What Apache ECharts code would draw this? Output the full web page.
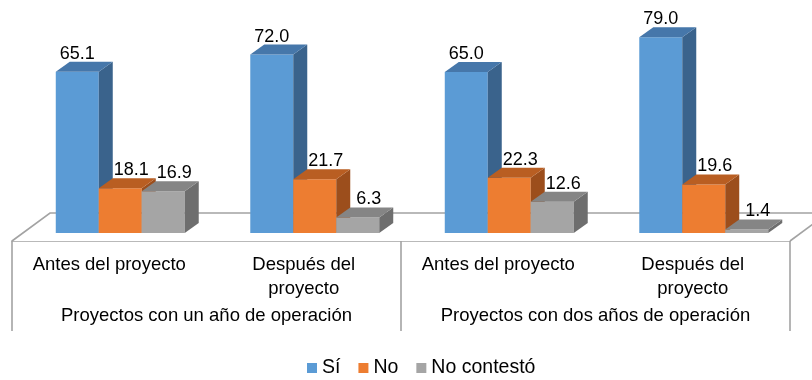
<!DOCTYPE html>
<html>
<head>
<meta charset="utf-8">
<script src="https://cdn.jsdelivr.net/npm/echarts@6/dist/echarts.min.js"></script>
<style>
  html, body { margin: 0; padding: 0; background: #ffffff; }
  #chart { width: 812px; height: 380px; }
</style>
</head>
<body>
<div id="chart"></div>
<script>
// Category labels (bottom level) and group labels (second level)
const categoryLabels = ['Antes del proyecto', 'Después del\nproyecto', 'Antes del proyecto', 'Después del\nproyecto'];
const groupLabels = ['Proyectos con un año de operación', 'Proyectos con dos años de operación'];

// Series values (%)
const seriesNames = ['Sí', 'No', 'No contestó'];
const valuesSi = [65.1, 72.0, 65.0, 79.0];
const valuesNo = [18.1, 21.7, 22.3, 19.6];
const valuesNoContesto = [16.9, 6.3, 12.6, 1.4];

// Face colours: front, top, side
const palette = [
  { front: '#5B9BD5', top: '#4677AA', side: '#3A638C' },
  { front: '#ED7D31', top: '#B95E22', side: '#9C4E1C' },
  { front: '#A5A5A5', top: '#858585', side: '#6E6E6E' }
];

const FONT = 'Arial, "Liberation Sans", sans-serif';
const LINE = '#a3a3a3';

// 3D look: bars sit a little behind the floor's front edge
const BAR_SHIFT_X = 11, BAR_SHIFT_Y = -8;  // front face offset from front plane
const DEPTH_X = 14, DEPTH_Y = -10;          // bar depth
const FLOOR_X = 38, FLOOR_Y = -28;          // floor depth
const BAR_RATIO = 0.221;                    // bar width / category width
const labelShift = [0, 11, 11];             // value label horizontal nudge per series

const chart = echarts.init(document.getElementById('chart'), null, { renderer: 'canvas' });

function barRenderer(seriesIdx) {
  return function (params, api) {
    const cat = api.value(0);
    const val = api.value(1);
    const base = api.coord([cat, 0]);
    const topPt = api.coord([cat, val]);
    const band = api.size([1, 0])[0];
    const w = band * BAR_RATIO;
    const xl = base[0] - 1.5 * w + seriesIdx * w + BAR_SHIFT_X;
    const xr = xl + w;
    const yb = base[1] + BAR_SHIFT_Y;
    const yt = topPt[1] + BAR_SHIFT_Y;
    const c = palette[seriesIdx];
    return {
      type: 'group',
      children: [
        {
          type: 'rect',
          shape: { x: xl, y: yt, width: w, height: yb - yt },
          style: { fill: c.front }
        },
        {
          type: 'polygon',
          shape: { points: [[xr, yb], [xr + DEPTH_X, yb + DEPTH_Y], [xr + DEPTH_X, yt + DEPTH_Y], [xr, yt]] },
          style: { fill: c.side }
        },
        {
          type: 'polygon',
          shape: { points: [[xl, yt], [xl + DEPTH_X, yt + DEPTH_Y], [xr + DEPTH_X, yt + DEPTH_Y], [xr, yt]] },
          style: { fill: c.top }
        },
        {
          type: 'text',
          style: {
            x: (xl + xr) / 2 + labelShift[seriesIdx],
            y: yt + DEPTH_Y + 1,
            text: val.toFixed(1),
            fill: '#000000',
            font: '18px ' + FONT,
            align: 'center',
            verticalAlign: 'bottom'
          }
        }
      ]
    };
  };
}

function floorRenderer(params, api) {
  const first = api.coord([0, 0]);
  const last = api.coord([categoryLabels.length - 1, 0]);
  const band = api.size([1, 0])[0];
  const left = first[0] - band / 2;
  const right = last[0] + band / 2;
  const y0 = first[1];
  const ls = { stroke: LINE, lineWidth: 1.6, fill: null };
  return {
    type: 'group',
    children: [
      { type: 'polygon', shape: { points: [[left, y0], [left + FLOOR_X, y0 + FLOOR_Y], [right + FLOOR_X, y0 + FLOOR_Y], [right, y0]] }, style: { fill: '#ffffff' } },
      { type: 'polyline', shape: { points: [[left, y0], [left + FLOOR_X, y0 + FLOOR_Y], [right + FLOOR_X, y0 + FLOOR_Y]] }, style: ls },
      { type: 'line', shape: { x1: right, y1: y0, x2: right + FLOOR_X, y2: y0 + FLOOR_Y }, style: ls }
    ]
  };
}

const allValues = [valuesSi, valuesNo, valuesNoContesto];

const series = [
  {
    type: 'custom',
    name: 'floor',
    renderItem: floorRenderer,
    data: [[0, 0]],
    silent: true,
    z: 1
  }
].concat(allValues.map((vals, s) => ({
  type: 'custom',
  name: seriesNames[s],
  renderItem: barRenderer(s),
  itemStyle: { color: palette[s].front },
  encode: { x: 0, y: 1 },
  data: vals.map((v, i) => [i, v]),
  z: 2 + s
})));

chart.setOption({
  animation: false,
  backgroundColor: '#ffffff',
  textStyle: { fontFamily: FONT },
  grid: { left: 12, right: 22, top: 18, bottom: 139 },
  xAxis: [
    {
      type: 'category',
      data: categoryLabels,
      axisLine: { show: true, lineStyle: { color: LINE, width: 1.6 } },
      axisTick: { show: false },
      axisLabel: { interval: 0, fontSize: 18.5, color: '#000000', lineHeight: 24, margin: 12, fontFamily: FONT },
      splitLine: { show: false }
    },
    {
      type: 'category',
      data: groupLabels,
      position: 'bottom',
      axisLine: { show: false },
      axisTick: { show: true, length: 90, lineStyle: { color: LINE, width: 1.6 } },
      axisLabel: { interval: 0, fontSize: 18.5, color: '#000000', margin: 65, fontFamily: FONT },
      splitLine: { show: false }
    }
  ],
  yAxis: { type: 'value', min: 0, max: 90, show: false },
  legend: {
    data: seriesNames,
    left: 307,
    top: 358,
    padding: 0,
    itemWidth: 10,
    itemHeight: 10,
    itemGap: 18,
    icon: 'rect',
    textStyle: { fontSize: 19.5, color: '#000000', fontFamily: FONT }
  },
  series: series
});
</script>
</body>
</html>
